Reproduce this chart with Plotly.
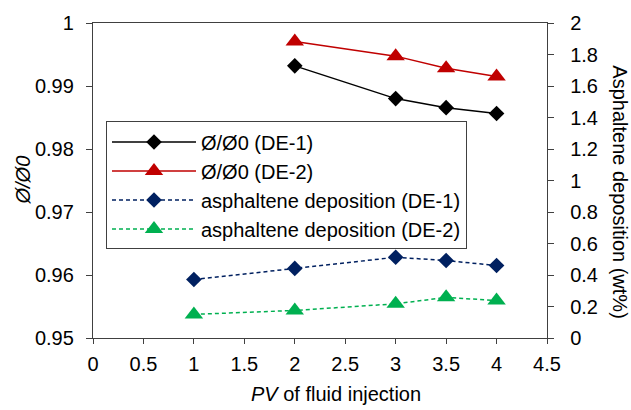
import plotly.graph_objects as go

pv_phi = [2, 3, 3.5, 4]
phi_de1 = [0.9932, 0.9880, 0.98656, 0.98563]
phi_de2 = [0.99708, 0.99474, 0.99281, 0.99151]

pv_dep = [1, 2, 3, 3.5, 4]
dep_de1 = [0.371, 0.442, 0.5125, 0.492, 0.46]
dep_de2 = [0.15, 0.175, 0.217, 0.258, 0.2375]

names = ["Ø/Ø0 (DE-1)", "Ø/Ø0 (DE-2)",
         "asphaltene deposition (DE-1)", "asphaltene deposition (DE-2)"]

FONT = "Liberation Sans, Arial, sans-serif"
L, R, T, B = 93, 84, 18, 72
W, H = 631, 410
pw = W - L - R
ph = H - T - B

fig = go.Figure()
fig.add_trace(go.Scatter(x=pv_phi, y=phi_de1, name=names[0], mode="lines+markers",
                         line=dict(color="black", width=1.5),
                         marker=dict(symbol="diamond", size=12, color="black")))
fig.add_trace(go.Scatter(x=pv_phi, y=phi_de2, name=names[1], mode="lines+markers",
                         line=dict(color="#C00000", width=1.5),
                         marker=dict(symbol="triangle-up", size=16, color="#C00000")))
fig.add_trace(go.Scatter(x=pv_dep, y=dep_de1, name=names[2], mode="lines+markers",
                         line=dict(color="#002060", width=1.5, dash="4px,3px"),
                         marker=dict(symbol="diamond", size=12, color="#002060"),
                         yaxis="y2"))
fig.add_trace(go.Scatter(x=pv_dep, y=dep_de2, name=names[3], mode="lines+markers",
                         line=dict(color="#00B050", width=1.5, dash="4px,3px"),
                         marker=dict(symbol="triangle-up", size=16, color="#00B050"),
                         yaxis="y2"))

axis_common = dict(showgrid=False, zeroline=False, showline=True, linecolor="#404040",
                   linewidth=1.3, ticks="outside", tickcolor="#404040", tickwidth=1.3,
                   tickfont=dict(family=FONT, size=20, color="black"))

fig.update_layout(
    width=W, height=H,
    margin=dict(l=L, r=R, t=T, b=B, pad=0),
    paper_bgcolor="white", plot_bgcolor="white",
    font=dict(family=FONT, size=20, color="black"),
    xaxis=dict(range=[0, 4.5], tickvals=[0, 0.5, 1, 1.5, 2, 2.5, 3, 3.5, 4, 4.5],
               ticktext=["0", "0.5", "1", "1.5", "2", "2.5", "3", "3.5", "4", "4.5"],
               ticklen=5, mirror=True, ticklabelstandoff=3, **axis_common),
    yaxis=dict(range=[0.95, 1.0], tickvals=[0.95, 0.96, 0.97, 0.98, 0.99, 1.0],
               ticktext=["0.95", "0.96", "0.97", "0.98", "0.99", "1"],
               ticklen=6, ticklabelstandoff=8, **axis_common),
    yaxis2=dict(range=[0, 2], overlaying="y", side="right",
                tickvals=[0, 0.2, 0.4, 0.6, 0.8, 1, 1.2, 1.4, 1.6, 1.8, 2],
                ticktext=["0", "0.2", "0.4", "0.6", "0.8", "1", "1.2", "1.4", "1.6", "1.8", "2"],
                ticklen=6, ticklabelstandoff=12, **axis_common),
    showlegend=True,
    legend=dict(x=(106 - L) / pw, y=(H - B - 118) / ph, xanchor="left", yanchor="top",
                bordercolor="#404040", borderwidth=1, bgcolor="white",
                font=dict(family=FONT, size=20, color="black"),
                itemwidth=84),
    annotations=[
        dict(text="<i>Ø/Ø0</i>", x=(22 - L) / pw, y=0.5, xref="paper", yref="paper",
             xanchor="center", yanchor="middle",
             textangle=-90, showarrow=False, font=dict(family=FONT, size=20)),
        dict(text="Asphaltene deposition (wt%)", x=(620 - L) / pw, y=(H - B - 189) / ph,
             xref="paper", yref="paper", xanchor="center", yanchor="middle",
             textangle=90, showarrow=False, font=dict(family=FONT, size=20)),
        dict(text="<i>PV</i> of fluid injection", x=(336 - L) / pw, y=(H - B - 395) / ph,
             xref="paper", yref="paper", xanchor="center", yanchor="middle",
             showarrow=False, font=dict(family=FONT, size=20)),
    ],
)

fig.write_html("out.html")
